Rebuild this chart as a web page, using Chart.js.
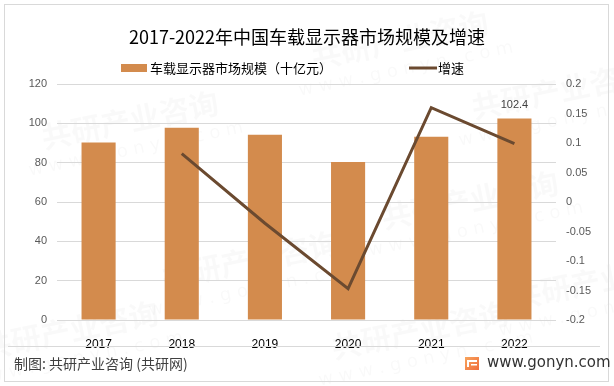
<!DOCTYPE html>
<html>
<head>
<meta charset="utf-8">
<script src="https://cdn.jsdelivr.net/npm/chart.js@4.4.0/dist/chart.umd.min.js"></script>
<style>
  html, body { margin: 0; padding: 0; background: #fff; }
  #box { width: 614px; height: 386px; }
</style>
</head>
<body>
<div id="box"><canvas id="myChart" width="614" height="386"></canvas></div>
<script>
// 数据
var years = ["2017", "2018", "2019", "2020", "2021", "2022"];
var scaleValues = [90.2, 97.8, 94.2, 80.3, 93.2, 102.4];
var growthValues = [null, 0.082, -0.036, -0.147, 0.16, 0.099];
var leftTicks = [0, 20, 40, 60, 80, 100, 120];
var rightTicks = [-0.2, -0.15, -0.1, -0.05, 0, 0.05, 0.1, 0.15, 0.2];
var seriesNames = ["车载显示器市场规模（十亿元）", "增速"];
var titleText = "2017-2022年中国车载显示器市场规模及增速";
var sourceText = "制图: 共研产业咨询 (共研网)";
var siteText = "www.gonyn.com";

var cjk = "'Noto Sans CJK SC', 'Noto Sans', sans-serif";
var barColor = "#d38b4d";
var lineColor = "#6b4a30";

// 标题、图例、脚注、水印
var decor = {
    id: 'decor',
    beforeDraw: function (chart) {
        var c = chart.ctx;
        c.save();
        c.fillStyle = '#fff';
        c.fillRect(0, 0, chart.width, chart.height);
        // 水印
        c.fillStyle = 'rgba(0,0,0,0.022)';
        c.textAlign = 'center';
        c.textBaseline = 'middle';
        var marks = [[130, 120], [400, 40], [560, 90], [250, 260], [470, 200], [70, 330], [420, 330], [600, 280]];
        marks.forEach(function (m) {
            c.save();
            c.translate(m[0], m[1]);
            c.rotate(-0.2);
            c.font = "bold 30px " + cjk;
            c.fillText("共研产业咨询", 0, 0);
            c.font = "18px 'DejaVu Sans', sans-serif";
            c.fillText("w w w . g o n y n . c o m", 0, 30);
            c.restore();
        });
        c.restore();
    },
    afterDraw: function (chart) {
        var c = chart.ctx;
        c.save();
        // 外框
        c.strokeStyle = '#d9d9d9';
        c.lineWidth = 1;
        c.strokeRect(4.5, 4.5, 604, 377);
        // 分隔线
        c.beginPath();
        c.moveTo(8, 346.5);
        c.lineTo(600, 346.5);
        c.stroke();

        // 标题
        c.fillStyle = '#000';
        c.textAlign = 'center';
        c.textBaseline = 'middle';
        c.font = "18px " + cjk;
        c.fillText(titleText, 307, 37);

        // 图例
        c.textAlign = 'left';
        c.font = "13px " + cjk;
        c.fillStyle = barColor;
        c.fillRect(121, 64, 26, 8);
        c.fillStyle = '#000';
        c.fillText(seriesNames[0], 150, 68);
        c.strokeStyle = lineColor;
        c.lineWidth = 3;
        c.beginPath();
        c.moveTo(409, 68);
        c.lineTo(437, 68);
        c.stroke();
        c.fillText(seriesNames[1], 438, 68);

        // 数据标签
        var meta = chart.getDatasetMeta(1);
        var last = meta.data[meta.data.length - 1];
        c.textAlign = 'center';
        c.fillStyle = '#404040';
        c.font = "11px 'Liberation Sans', sans-serif";
        c.fillText(String(scaleValues[scaleValues.length - 1]), last.x, last.y - 14);

        // 脚注
        c.textAlign = 'left';
        c.fillStyle = '#404040';
        c.font = "14px " + cjk;
        c.fillText(sourceText, 14, 364);
        // 标志
        var g = c.createLinearGradient(465, 358, 479, 371);
        g.addColorStop(0, '#f7a35c');
        g.addColorStop(1, '#f06a3a');
        c.fillStyle = g;
        c.fillRect(465, 357, 14, 13);
        c.fillStyle = '#fff';
        c.fillRect(467, 360, 10, 2);
        c.fillRect(467, 362, 2, 5);
        c.fillRect(471, 364, 6, 1.5);
        c.fillStyle = '#333';
        c.font = "15px 'DejaVu Sans', sans-serif";
        c.fillText(siteText, 487, 363);
        c.restore();
    }
};

var ctx = document.getElementById("myChart").getContext("2d");
var myChart = new Chart(ctx, {
    type: 'bar',
    data: {
        labels: years,
        datasets: [
            {
                type: 'line',
                label: seriesNames[1],
                data: growthValues,
                yAxisID: 'y1',
                borderColor: lineColor,
                borderWidth: 3,
                pointRadius: 0,
                tension: 0,
                order: 0
            },
            {
                label: seriesNames[0],
                data: scaleValues,
                yAxisID: 'y',
                backgroundColor: barColor,
                categoryPercentage: 1,
                barPercentage: 0.41,
                order: 1
            }
        ]
    },
    options: {
        responsive: false,
        animation: false,
        layout: { padding: { top: 84, bottom: 0, left: 0, right: 0 } },
        plugins: {
            legend: { display: false },
            title: { display: false },
            tooltip: { enabled: false }
        },
        scales: {
            x: {
                grid: { display: false },
                border: { display: false },
                ticks: { color: '#000', padding: 9, font: { size: 12, family: "'Liberation Sans', sans-serif" } },
                afterFit: function (s) { s.height = 66; }
            },
            y: {
                position: 'left',
                min: 0,
                max: 120,
                afterBuildTicks: function (s) { s.ticks = leftTicks.map(function (v) { return { value: v }; }); },
                grid: { color: '#d9d9d9', drawTicks: false },
                border: { display: false },
                ticks: { color: '#595959', padding: 10, font: { size: 11, family: "'Liberation Sans', sans-serif" } },
                afterFit: function (s) { s.width = 57; }
            },
            y1: {
                position: 'right',
                min: -0.2,
                max: 0.2,
                afterBuildTicks: function (s) { s.ticks = rightTicks.map(function (v) { return { value: v }; }); },
                grid: { display: false, drawTicks: false },
                border: { display: false },
                ticks: {
                    color: '#595959', padding: 10, font: { size: 11, family: "'Liberation Sans', sans-serif" },
                    callback: function (v) { return String(Number(v.toFixed(2))); }
                },
                afterFit: function (s) { s.width = 58; }
            }
        }
    },
    plugins: [decor]
});
</script>
</body>
</html>
